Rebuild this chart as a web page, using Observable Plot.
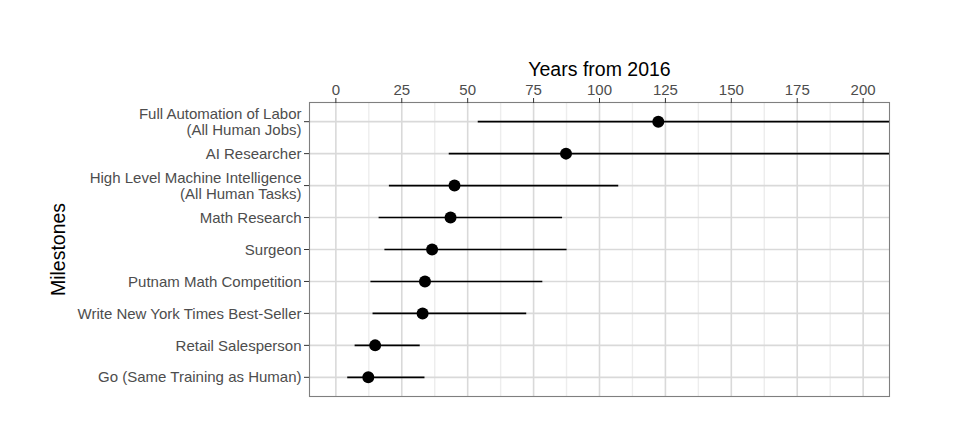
<!DOCTYPE html>
<html>
<head>
<meta charset="utf-8">
<script src="https://cdn.jsdelivr.net/npm/d3@7"></script>
<script src="https://cdn.jsdelivr.net/npm/@observablehq/plot@0.6"></script>
<style>
  html, body { margin: 0; padding: 0; background: #fff; }
  svg { font-family: "Liberation Sans", Arial, Helvetica, sans-serif; }
</style>
</head>
<body>
<div id="chart"></div>
<script>
const milestones = [
  "Full Automation of Labor\n(All Human Jobs)",
  "AI Researcher",
  "High Level Machine Intelligence\n(All Human Tasks)",
  "Math Research",
  "Surgeon",
  "Putnam Math Competition",
  "Write New York Times Best-Seller",
  "Retail Salesperson",
  "Go (Same Training as Human)"
];
const lowYears    = [54, 43, 20.3, 16.4, 18.6, 13.3, 14.1, 7.3, 4.5];
const medianYears = [122.3, 87.3, 45, 43.5, 36.5, 33.8, 32.9, 14.9, 12.3];
const highYears   = [300, 300, 107.3, 86, 87.7, 78.5, 72.4, 32, 33.8];
const majorTicks = [0, 25, 50, 75, 100, 125, 150, 175, 200];
const minorTicks = [12.5, 37.5, 62.5, 87.5, 112.5, 137.5, 162.5, 187.5];

const data = milestones.map((m, i) => ({name: m, low: lowYears[i], median: medianYears[i], high: highYears[i]}));

const chart = Plot.plot({
  width: 957,
  height: 424,
  marginLeft: 309,
  marginRight: 68,
  marginTop: 102,
  marginBottom: 28,
  style: {fontFamily: '"Liberation Sans", Arial, Helvetica, sans-serif', background: "#fff"},
  x: {domain: [-10, 210], axis: null},
  y: {type: "point", domain: milestones, padding: 0.6, round: false, axis: null},
  marks: [
    Plot.ruleX(minorTicks, {x: d => d, stroke: "#ededed", strokeWidth: 1.4}),
    Plot.ruleX(majorTicks, {x: d => d, stroke: "#d9d9d9", strokeWidth: 1.6}),
    Plot.ruleY(milestones, {y: d => d, stroke: "#d9d9d9", strokeWidth: 1.6}),
    Plot.ruleY(data, {y: "name", x1: "low", x2: "high", stroke: "#000", strokeWidth: 1.6, clip: true}),
    Plot.dot(data, {x: "median", y: "name", r: 6, fill: "#000", stroke: null}),
    Plot.frame({stroke: "#7f7f7f", strokeWidth: 1.1}),
    Plot.axisX(majorTicks, {
      anchor: "top", tickSize: 5, tickPadding: 3, fontSize: 15, color: "#4d4d4d", stroke: "#333",
      label: "Years from 2016", labelAnchor: "center", labelArrow: "none", labelOffset: 40
    }),
    Plot.axisY(milestones, {
      anchor: "left", tickSize: 5, tickPadding: 3, fontSize: 15, color: "#4d4d4d", stroke: "#333",
      lineHeight: 1.07, tickFormat: d => d,
      label: "Milestones", labelAnchor: "center", labelArrow: "none", labelOffset: 258
    })
  ]
});
chart.querySelectorAll('[aria-label="x-axis label"] text, [aria-label="y-axis label"] text').forEach(t => {
  t.setAttribute("font-size", "19.5");
  t.setAttribute("fill", "#000");
  t.style.fontSize = "19.5px";
});
document.getElementById("chart").appendChild(chart);
</script>
</body>
</html>
